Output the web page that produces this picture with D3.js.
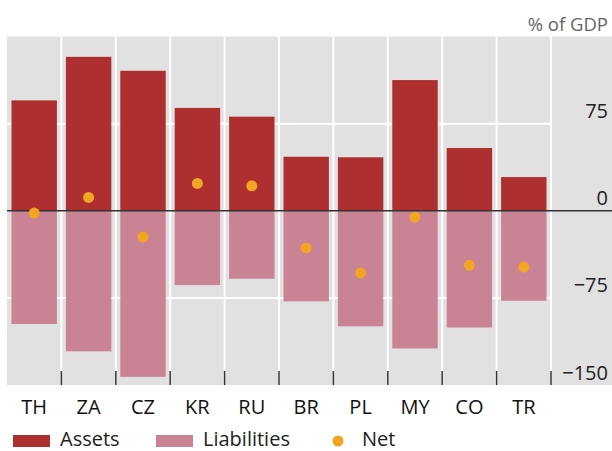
<!DOCTYPE html>
<html>
<head>
<meta charset="utf-8">
<script src="https://cdn.jsdelivr.net/npm/d3@7"></script>
<style>
  body { margin: 0; background: #fff; }
  text { font-family: "Open Sans", "Noto Sans", sans-serif; }
</style>
</head>
<body>
<div id="chart"></div>
<script>
// data (% of GDP)
var categories = ["TH", "ZA", "CZ", "KR", "RU", "BR", "PL", "MY", "CO", "TR"];
var assets = [95, 132.5, 120.5, 88.5, 81, 46.5, 46, 112.5, 54, 29];
var liabilities = [-97.5, -121, -143, -64, -58.5, -78, -99.5, -118.5, -100.5, -77.5];
var net = [-2, 11.5, -22.5, 23.5, 21.5, -32, -53.5, -5.5, -47, -48.5];
var yTicks = [-150, -75, 0, 75];

var W = 612, H = 451;
var plotLeft = 7, plotRight = 551, plotTop = 36.5, plotBottom = 385;

var svg = d3.select("#chart").append("svg")
    .attr("width", W)
    .attr("height", H);

var x = d3.scaleBand()
    .domain(categories)
    .range([plotLeft, plotRight])
    .paddingInner(0.165)
    .paddingOuter(0.0825);

var y = d3.scaleLinear()
    .domain([-150, 150])
    .range([plotBottom, plotTop]);

var step = x.step();
var bounds = d3.range(1, categories.length + 1).map(function (i) { return plotLeft + i * step; });

// background
svg.append("rect")
    .attr("x", plotLeft)
    .attr("y", plotTop)
    .attr("width", W - plotLeft)
    .attr("height", plotBottom - plotTop)
    .attr("fill", "#e1e1e1");

// vertical separators
svg.append("g").selectAll("line")
    .data(bounds)
    .enter().append("line")
    .attr("x1", function (d) { return d; })
    .attr("x2", function (d) { return d; })
    .attr("y1", plotTop)
    .attr("y2", plotBottom)
    .attr("stroke", "#fff")
    .attr("stroke-width", 2);

// horizontal grid
svg.append("g").selectAll("line")
    .data([-75, 75])
    .enter().append("line")
    .attr("x1", plotLeft)
    .attr("x2", plotRight)
    .attr("y1", function (d) { return y(d); })
    .attr("y2", function (d) { return y(d); })
    .attr("stroke", "#fff")
    .attr("stroke-width", 2);

var rows = categories.map(function (c, i) {
  return { cat: c, a: assets[i], l: liabilities[i], n: net[i] };
});

// assets bars
svg.append("g").selectAll("rect")
    .data(rows)
    .enter().append("rect")
    .attr("x", function (d) { return x(d.cat); })
    .attr("width", x.bandwidth())
    .attr("y", function (d) { return y(d.a); })
    .attr("height", function (d) { return y(0) - y(d.a); })
    .attr("fill", "#ae2f2f");

// liabilities bars
svg.append("g").selectAll("rect")
    .data(rows)
    .enter().append("rect")
    .attr("x", function (d) { return x(d.cat); })
    .attr("width", x.bandwidth())
    .attr("y", y(0))
    .attr("height", function (d) { return y(d.l) - y(0); })
    .attr("fill", "#c98394");

// zero line
svg.append("line")
    .attr("x1", plotLeft)
    .attr("x2", W)
    .attr("y1", y(0))
    .attr("y2", y(0))
    .attr("stroke", "#333")
    .attr("stroke-width", 1.5);

// net dots
svg.append("g").selectAll("circle")
    .data(rows)
    .enter().append("circle")
    .attr("cx", function (d) { return x(d.cat) + x.bandwidth() / 2; })
    .attr("cy", function (d) { return y(d.n); })
    .attr("r", 5.5)
    .attr("fill", "#f0a623");

// x tick marks at band boundaries
svg.append("g").selectAll("line")
    .data(bounds)
    .enter().append("line")
    .attr("x1", function (d) { return d; })
    .attr("x2", function (d) { return d; })
    .attr("y1", plotBottom - 14)
    .attr("y2", plotBottom)
    .attr("stroke", "#333")
    .attr("stroke-width", 1.5);

// x axis labels
var xAxis = svg.append("g")
    .attr("transform", "translate(0," + plotBottom + ")")
    .call(d3.axisBottom(x).tickSize(0).tickPadding(0));
xAxis.select(".domain").remove();
xAxis.selectAll("text")
    .attr("y", 29)
    .attr("dy", 0)
    .attr("fill", "#111")
    .style("font-size", "20px")
    .style("font-family", "'Open Sans', sans-serif");

// y axis labels on the right, sitting above the lines
var yAxis = svg.append("g")
    .attr("transform", "translate(608,0)")
    .call(d3.axisLeft(y).tickValues(yTicks).tickSize(0).tickPadding(0)
      .tickFormat(function (d) { return d < 0 ? "\u2212" + Math.abs(d) : d; }));
yAxis.select(".domain").remove();
yAxis.selectAll("text")
    .attr("dy", -6)
    .attr("fill", "#222")
    .style("font-size", "20px")
    .style("font-family", "'Open Sans', sans-serif");

svg.append("text")
    .attr("x", 608)
    .attr("y", y(150) - 6)
    .attr("text-anchor", "end")
    .attr("fill", "#666")
    .style("font-size", "18.5px")
    .text("% of GDP");

// legend
var legend = svg.append("g");
legend.append("rect").attr("x", 13).attr("y", 435).attr("width", 37).attr("height", 12).attr("fill", "#ae2f2f");
legend.append("text").attr("x", 60).attr("y", 446).attr("fill", "#222").style("font-size", "20px").text("Assets");
legend.append("rect").attr("x", 156).attr("y", 435).attr("width", 37).attr("height", 12).attr("fill", "#c98394");
legend.append("text").attr("x", 203).attr("y", 446).attr("fill", "#222").style("font-size", "20px").text("Liabilities");
legend.append("circle").attr("cx", 338).attr("cy", 441).attr("r", 5.5).attr("fill", "#f0a623");
legend.append("text").attr("x", 362).attr("y", 446).attr("fill", "#222").style("font-size", "20px").text("Net");
</script>
</body>
</html>
